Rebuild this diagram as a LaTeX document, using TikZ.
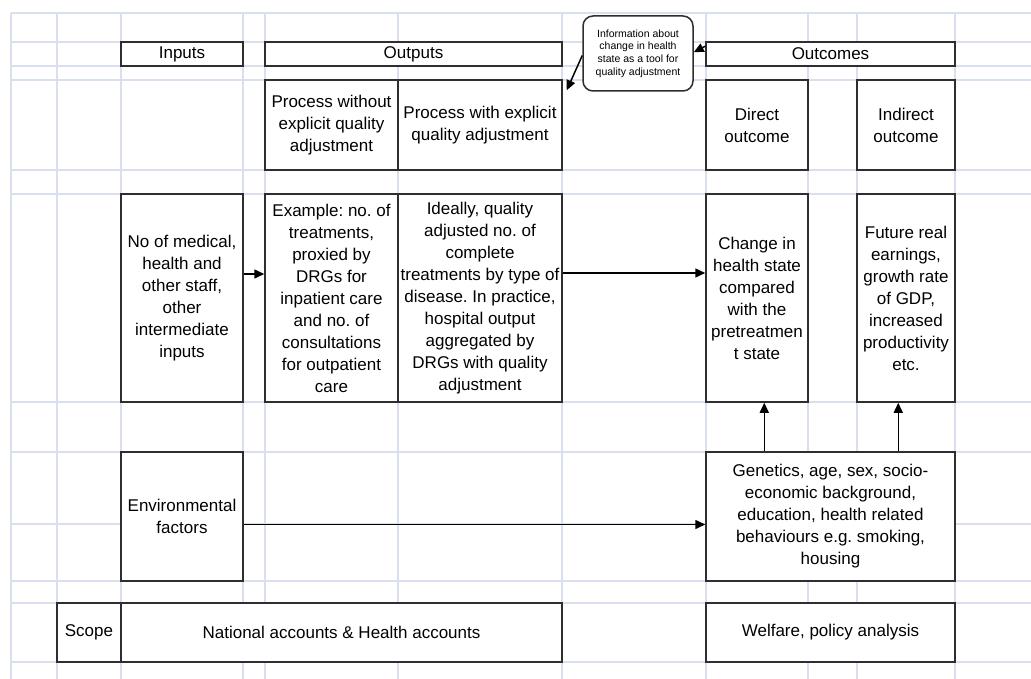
\documentclass[tikz,border=0pt]{standalone}
\usepackage{fontspec}
\setmainfont{Liberation Sans}
\usetikzlibrary{arrows.meta}
\definecolor{gridcol}{HTML}{D9DFEE}
\definecolor{edgecol}{HTML}{2E2E2E}
\frenchspacing

\begin{document}
\begin{tikzpicture}[x=1pt, y=-1pt,
    box/.style = {draw=edgecol, line width=1.5pt, fill=white, align=center, inner sep=0pt,
                  font=\fontsize{17}{22}\selectfont},
    hdr/.style = {box, minimum height=24pt},
    upper/.style = {box, minimum height=90pt},
    middle/.style = {box, minimum height=208pt},
    lower/.style = {box, minimum height=129pt},
    base/.style = {box, minimum height=59pt},
    arr/.style = {-{Triangle[length=10pt,width=9pt]}, line width=1.5pt}]
  \useasboundingbox (0,0) rectangle (1031,679);
  % sheet grid
  \foreach \gx in {11,57,121,243,265,398,562,706,808,857,955}
    \draw[gridcol, line width=1.5pt] (\gx,13) -- (\gx,679);
  \foreach \gy in {13,42,66,80,170,194,402,452,524,581,603,662}
    \draw[gridcol, line width=1.5pt] (11,\gy) -- (1031,\gy);

  % headers
  \node[hdr, minimum width=122pt] (inputs) at (182,54) {Inputs};
  \node[hdr, minimum width=297pt] (outputs) at (413.5,54) {Outputs};
  \node[hdr, minimum width=249pt] (outcomes) at (830.5,54) {Outcomes};

  % second row
  \node[upper, minimum width=133pt] (pwo) at (331.5,125) {Process without\\explicit quality\\adjustment};
  \node[upper, minimum width=164pt] (pw) at (480,125) {Process with explicit\\quality adjustment};
  \node[upper, minimum width=102pt] (direct) at (757,125) {Direct\\outcome};
  \node[upper, minimum width=98pt] (indirect) at (906,125) {Indirect\\outcome};

  % main row
  \node[middle, minimum width=122pt] (staff) at (182,298) {No of medical,\\health and\\other staff,\\other\\intermediate\\inputs};
  \node[middle, minimum width=133pt] (example) at (331.5,298) {Example: no. of\\treatments,\\proxied by\\DRGs for\\inpatient care\\and no. of\\consultations\\for outpatient\\care};
  \node[middle, minimum width=164pt] (ideally) at (480,298) {Ideally, quality\\adjusted no. of\\complete\\treatments by type of\\disease. In practice,\\hospital output\\aggregated by\\DRGs with quality\\adjustment};
  \node[middle, minimum width=102pt] (change) at (757,298) {Change in\\health state\\compared\\with the\\pretreatmen\\t state};
  \node[middle, minimum width=98pt] (future) at (906,298) {Future real\\earnings,\\growth rate\\of GDP,\\increased\\productivity\\etc.};

  % factors
  \node[lower, minimum width=122pt] (env) at (182,516.5) {Environmental\\factors};
  \node[lower, minimum width=249pt] (genetics) at (830.5,516.5) {Genetics, age, sex, socio-\\economic background,\\education, health related\\behaviours e.g. smoking,\\housing};

  % scope
  \node[base, minimum width=64pt] (scope) at (89,632.5) {Scope};
  \node[base, minimum width=441pt] (natacc) at (341.5,632.5) {National accounts \& Health accounts};
  \node[base, minimum width=249pt] (welfare) at (830.5,632.5) {Welfare, policy analysis};

  % callout
  \node[draw=edgecol, line width=1.5pt, fill=white, rounded corners=10pt, align=center, inner sep=0pt,
        minimum width=110pt, minimum height=75pt, font=\fontsize{10.5}{12.7}\selectfont]
        (info) at (638,53.5) {Information about\\change in health\\state as a tool for\\quality adjustment};

  \draw[arr] ([yshift=24pt]staff.east) -- ([yshift=24pt]example.west);
  \draw[arr] ([yshift=25pt]ideally.east) -- ([yshift=25pt]change.west);
  \draw[arr] ([yshift=-8pt]env.east) -- ([yshift=-8pt]genetics.west);
  \draw[arr] ([xshift=59pt]genetics.north west) -- ([xshift=59pt]change.south west);
  \draw[arr] ([xshift=193pt]genetics.north west) -- ([xshift=42pt]future.south west);
  \draw[arr] ([yshift=-2pt]info.west) -- ([xshift=4pt,yshift=-11pt]pw.north east);
  \draw[arr] ([yshift=-5pt]outcomes.north west) -- ([yshift=-37pt]info.north east);
\end{tikzpicture}
\end{document}
